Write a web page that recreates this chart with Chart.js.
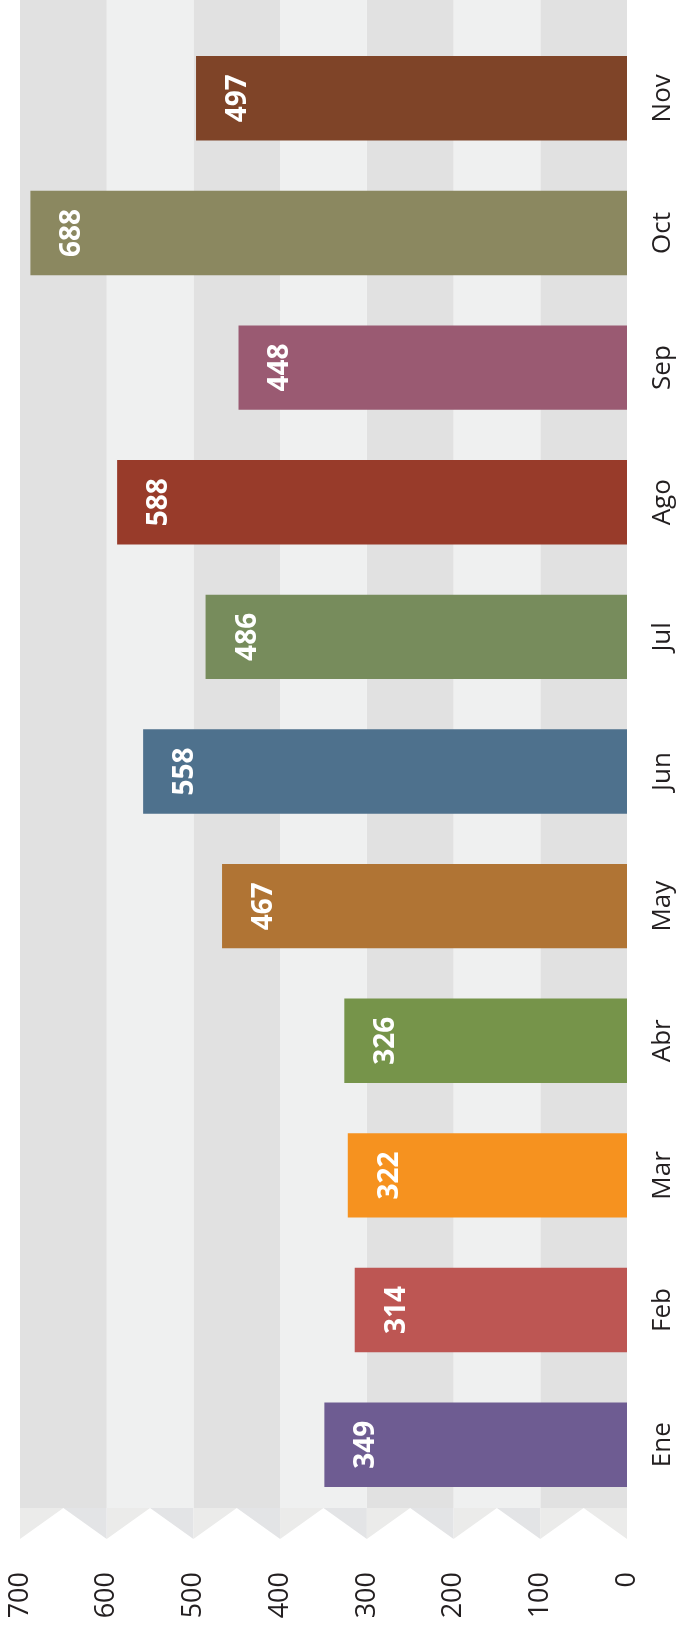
<!DOCTYPE html>
<html>
<head>
<meta charset="utf-8">
<title>Ventas por mes</title>
<script src="https://cdn.jsdelivr.net/npm/chart.js@4.4.0/dist/chart.umd.min.js"></script>
<style>
  html, body { margin: 0; padding: 0; background: #fff; }
  canvas { display: block; }
</style>
</head>
<body>
<canvas id="chart" width="678" height="1633"></canvas>
<script>
const months = ["Ene", "Feb", "Mar", "Abr", "May", "Jun", "Jul", "Ago", "Sep", "Oct", "Nov"];
const values = [349, 314, 322, 326, 467, 558, 486, 588, 448, 688, 497];
const valueTicks = [0, 100, 200, 300, 400, 500, 600, 700];

const barColors = ["#6e5c92", "#bd5653", "#f6921f", "#76944a", "#b07434", "#4e718d",
                   "#778c5c", "#983b2a", "#9a5a72", "#8b8860", "#7f4428"];
const bandDark = "#e1e1e1";
const bandLight = "#eff0f0";
const foldDark = "#e3e4e6";
const foldLight = "#ebebea";
const textColor = "#231f20";

// the whole chart reads sideways, so all text is turned a quarter to the left
function sideText(ctx, text, x, y, align) {
  ctx.save();
  ctx.translate(x, y);
  ctx.rotate(-Math.PI / 2);
  ctx.textAlign = align;
  ctx.textBaseline = "middle";
  ctx.fillText(text, 0, 0);
  ctx.restore();
}

// striped background with the folded edge at the bottom
const bandsPlugin = {
  id: "bands",
  beforeDatasetsDraw(chart) {
    const { ctx, chartArea, scales } = chart;
    const x = scales.x;
    const edge = chartArea.bottom - 4;
    const depth = 31;

    ctx.save();
    for (let i = 0; i < valueTicks.length - 1; i++) {
      const a = x.getPixelForValue(valueTicks[i + 1]);
      const b = x.getPixelForValue(valueTicks[i]);
      ctx.fillStyle = i % 2 === 0 ? bandDark : bandLight;
      ctx.fillRect(a, 0, b - a, edge);
    }

    const half = (x.getPixelForValue(valueTicks[0]) - x.getPixelForValue(valueTicks[1])) / 2;
    valueTicks.forEach((v, j) => {
      const g = x.getPixelForValue(v);
      if (j < valueTicks.length - 1) {
        ctx.fillStyle = j === 0 ? foldLight : foldDark;
        ctx.beginPath();
        ctx.moveTo(g - half, edge);
        ctx.lineTo(g, edge);
        ctx.lineTo(g, edge + depth);
        ctx.closePath();
        ctx.fill();
      }
      if (j > 0) {
        ctx.fillStyle = foldLight;
        ctx.beginPath();
        ctx.moveTo(g, edge);
        ctx.lineTo(g + half, edge);
        ctx.lineTo(g, edge + depth);
        ctx.closePath();
        ctx.fill();
      }
    });
    ctx.restore();
  }
};

// bar values, tick labels and month names
const textPlugin = {
  id: "texts",
  afterDatasetsDraw(chart) {
    const { ctx, chartArea, scales } = chart;
    const meta = chart.getDatasetMeta(0);

    ctx.save();
    ctx.fillStyle = "#ffffff";
    ctx.font = "bold 28px 'Open Sans'";
    meta.data.forEach((bar, i) => {
      sideText(ctx, String(values[i]), bar.x + 42, bar.y, "center");
    });

    ctx.fillStyle = textColor;
    ctx.font = "27px 'Open Sans'";
    valueTicks.forEach(v => {
      sideText(ctx, String(v), scales.x.getPixelForValue(v), chartArea.bottom + 60, "right");
    });

    ctx.font = "26px 'Open Sans'";
    months.forEach((m, i) => {
      sideText(ctx, m, chartArea.right + 36, scales.y.getPixelForValue(i), "center");
    });
    ctx.restore();
  }
};

const ctx = document.getElementById("chart").getContext("2d");
new Chart(ctx, {
  type: "bar",
  data: {
    labels: months,
    datasets: [{
      data: values,
      backgroundColor: barColors,
      borderWidth: 0,
      categoryPercentage: 1,
      barPercentage: 0.627
    }]
  },
  options: {
    indexAxis: "y",
    responsive: false,
    animation: false,
    layout: { padding: { left: 20, right: 51, top: 31, bottom: 121 } },
    plugins: {
      legend: { display: false },
      tooltip: { enabled: false }
    },
    scales: {
      x: { display: false, min: 0, max: 700, reverse: true },
      y: { display: false, reverse: true }
    }
  },
  plugins: [bandsPlugin, textPlugin]
});
</script>
</body>
</html>
